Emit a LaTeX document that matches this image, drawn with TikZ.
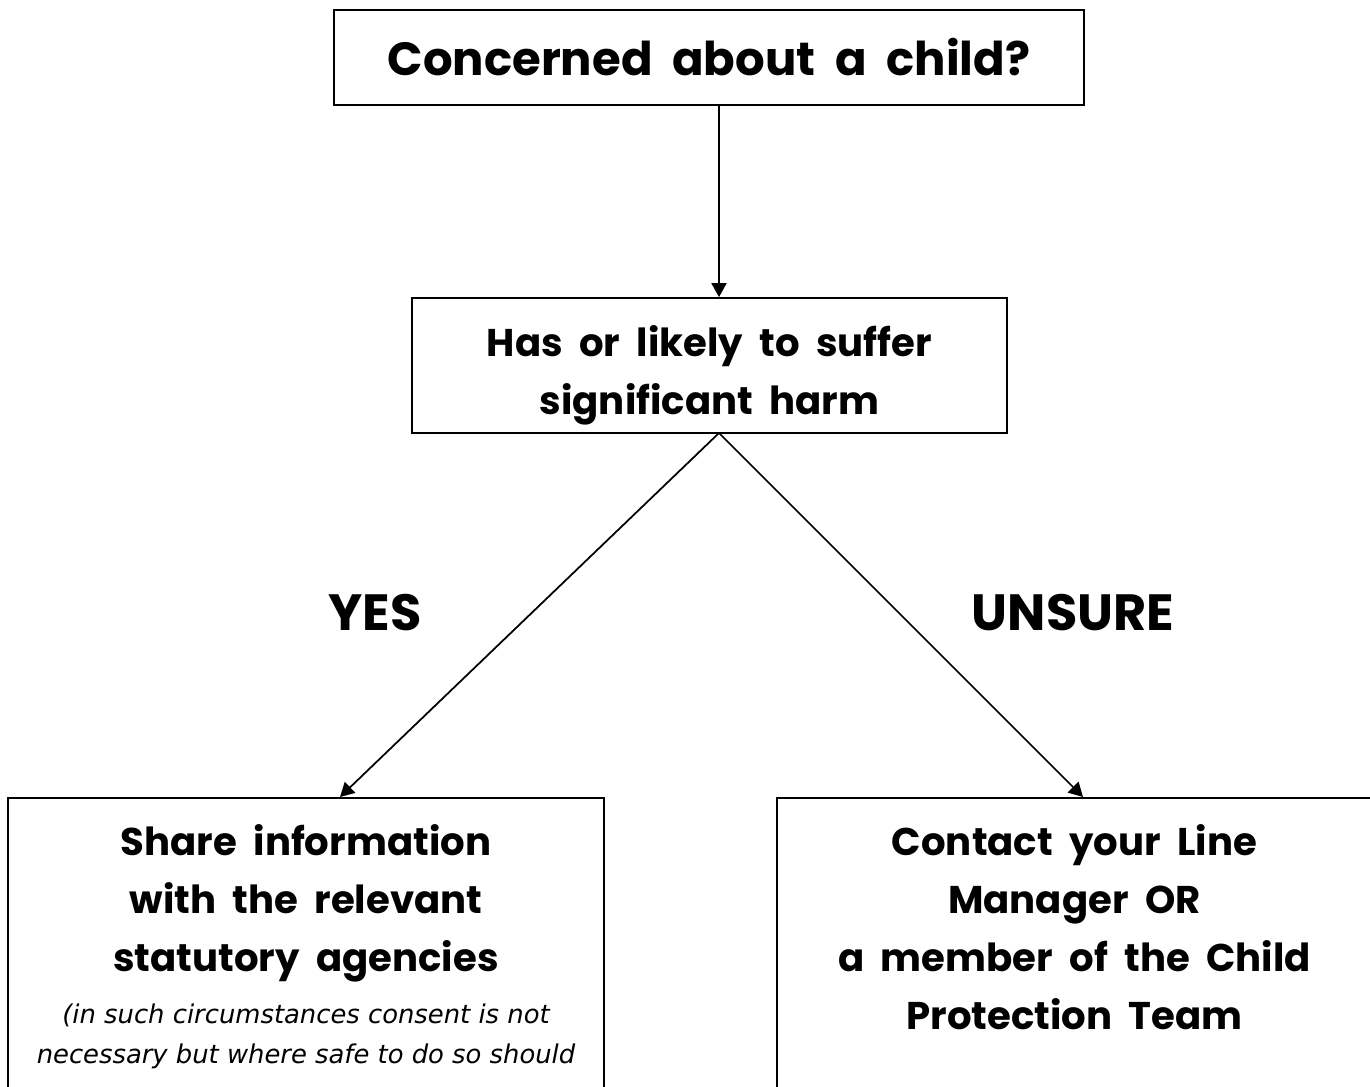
\documentclass[tikz,border=0pt]{standalone}
\usepackage{fontspec}
\setmainfont{Poppins}[WordSpace=2]
\newfontfamily\notefont{DejaVu Sans}
\usetikzlibrary{positioning,arrows.meta}

\begin{document}
\begin{tikzpicture}[x=0.02cm,y=-0.02cm,line width=1pt]
        \tikzstyle{box}=[draw,rectangle,inner sep=0pt,align=center]
        \tikzstyle{big}=[font=\fontsize{26.5}{36}\selectfont\bfseries]
        \tikzstyle{mid}=[font=\fontsize{22}{33}\selectfont\bfseries]
        \tikzstyle{branch}=[font=\fontsize{29}{36}\selectfont\bfseries]
        \tikzstyle{note}=[font=\fontsize{14.7}{22.8}\selectfont\notefont\itshape]
        \tikzstyle{arr}=[-{Triangle[length=0.28cm,width=0.3cm]}]

        \useasboundingbox (0,0) rectangle (1370,1086);
        \clip (0,0) rectangle (1370,1086);

        % the two upper boxes
        \node [box,big,minimum width=15cm,minimum height=1.9cm] (concern) at (709,57.5) {Concerned about a child?};
        \node [box,minimum width=11.9cm,minimum height=2.7cm] (harm) at (709.5,365.5) {};
        \node [mid,align=center] (harmtext) at ([yshift=-0.2cm]harm.center) {Has or likely to suffer\\significant harm};

        % the two lower boxes, cut off at the bottom
        \node [box,anchor=north,minimum width=11.92cm,minimum height=8cm] (share) at (306,797) {};
        \node [box,anchor=north,minimum width=11.9cm,minimum height=8cm] (contact) at (1074.5,797) {};

        \node [mid,align=center,below=0.42cm of share.north] (sharetext) {Share information\\with the relevant\\statutory agencies};
        \node [note,align=center,below=0.16cm of sharetext] (sharenote) {(in such circumstances consent is not\\necessary but where safe to do so should};
        \node [mid,align=center,below=0.42cm of contact.north] (contacttext) {Contact your Line\\Manager OR\\a member of the Child\\Protection Team};

        %branch labels
        \node [branch] (yes) at (375,613) {YES};
        \node [branch] (unsure) at (1073,613) {UNSURE};

        \coordinate (fork) at (719,433);
        \coordinate (yestip) at (340,797);
        \coordinate (unsuretip) at (1083,797);

        \draw [arr] (concern.south -| fork) -- (harm.north -| fork);
        \draw [arr] (fork) -- (yestip);
        \draw [arr] (fork) -- (unsuretip);
\end{tikzpicture}
\end{document}
